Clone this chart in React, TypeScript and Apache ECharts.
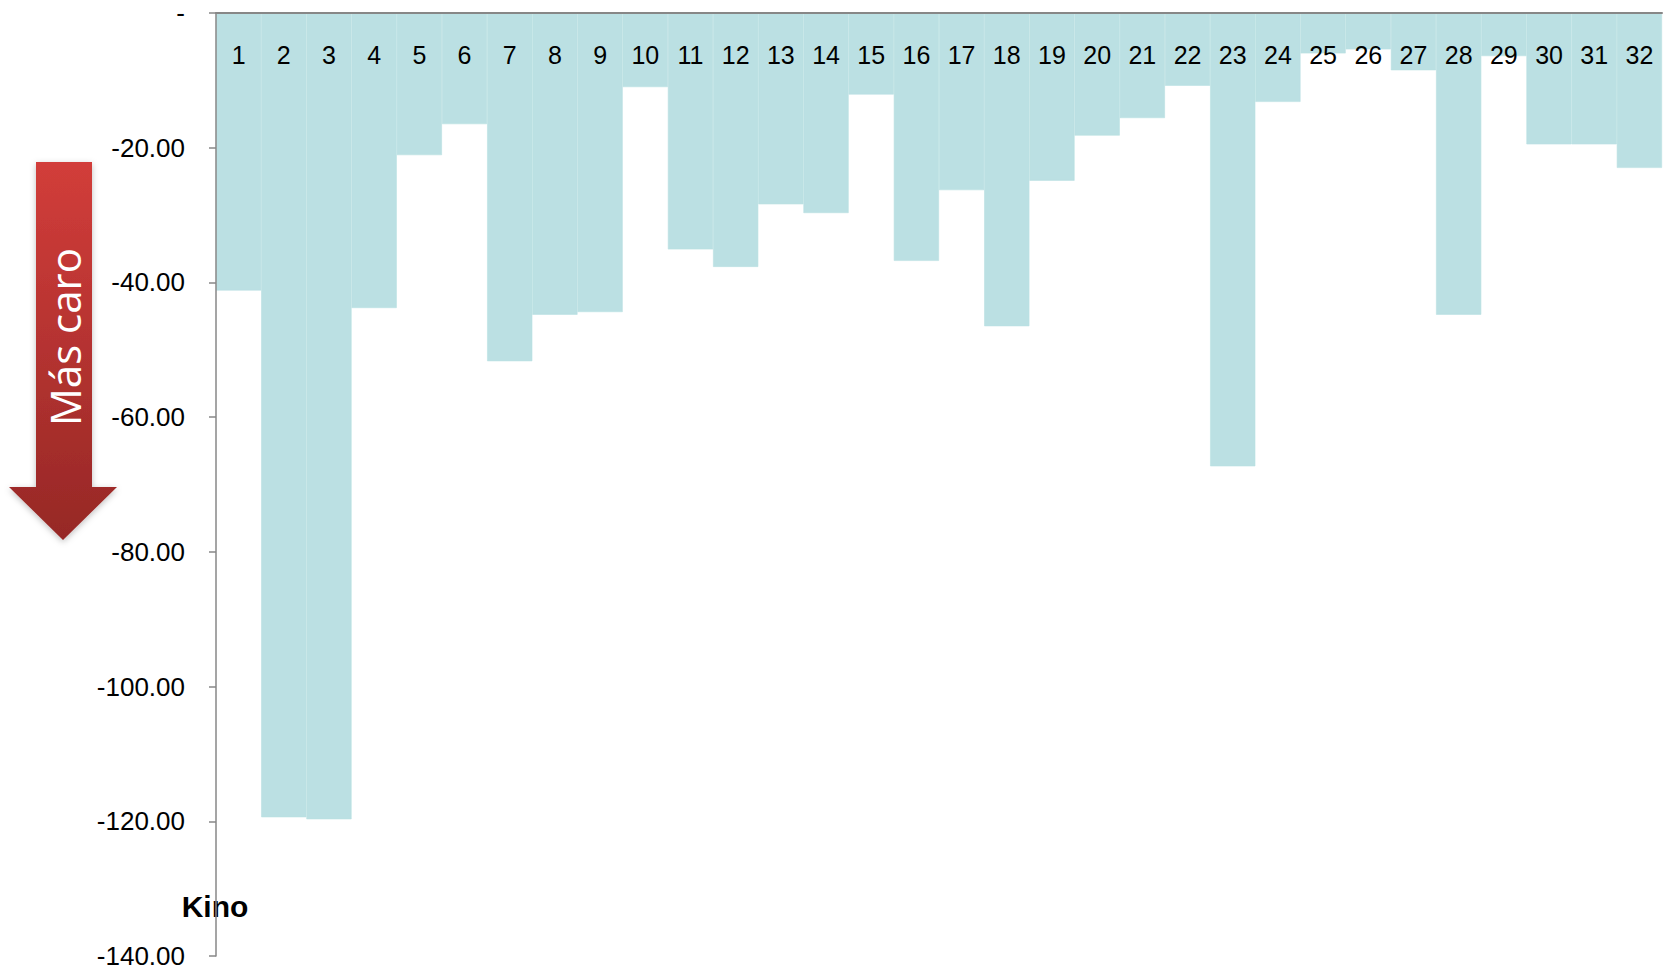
import React, { useEffect, useRef } from "react";
import * as echarts from "echarts";

const categories: string[] = Array.from({ length: 32 }, (_, i) => String(i + 1));
const values: number[] = [
  -41.2, -119.4, -119.7, -43.8, -21.1, -16.5, -51.7, -44.8, -44.4, -11.0,
  -35.1, -37.7, -28.4, -29.7, -12.1, -36.8, -26.3, -46.5, -24.9, -18.2,
  -15.6, -10.8, -67.3, -13.2, -6.0, -5.4, -8.5, -44.8, -6.4, -19.5,
  -19.5, -23.0,
];
const yMin = -140;
const yMax = 0;
const yInterval = 20;
const axisTitle = "Kino";
const arrowText = "Más caro";

export default function App() {
  const ref = useRef<HTMLDivElement>(null);
  useEffect(() => {
    if (!ref.current) return;
    const chart = echarts.init(ref.current, null, { renderer: "svg" });
    chart.setOption({
      animation: false,
      backgroundColor: "#ffffff",
      grid: { left: 216, right: 11, top: 9, bottom: 13, containLabel: false },
      xAxis: {
        type: "category",
        data: categories,
        position: "top",
        z: 10,
        axisLine: { show: true, lineStyle: { color: "#878787", width: 2 } },
        axisTick: { show: false },
        axisLabel: {
          inside: true,
          margin: 29,
          color: "#000",
          fontSize: 25,
          fontFamily: "Liberation Sans, Arial, sans-serif",
          interval: 0,
        },
        splitLine: { show: false },
      },
      yAxis: {
        type: "value",
        min: yMin,
        max: yMax,
        interval: yInterval,
        z: 10,
        axisLine: { show: true, lineStyle: { color: "#878787", width: 1.5 } },
        axisTick: { show: true, length: 7, lineStyle: { color: "#878787", width: 1.5 } },
        axisLabel: {
          margin: 31,
          color: "#000",
          fontSize: 26,
          fontFamily: "Liberation Sans, Arial, sans-serif",
          formatter: (v: number) => (v === 0 ? "-" : v.toFixed(2)),
        },
        splitLine: { show: false },
      },
      series: [
        {
          type: "bar",
          data: values,
          barCategoryGap: "0%",
          itemStyle: { color: "#BBE0E3", borderColor: "#BBE0E3", borderWidth: 0.6 },
          z: 1,
        },
      ],
      graphic: [
        {
          type: "polygon",
          z: 20,
          shape: {
            points: [
              [36, 162],
              [92, 162],
              [92, 487],
              [117, 487],
              [63, 540],
              [9, 487],
              [36, 487],
            ],
          },
          style: {
            fill: new echarts.graphic.LinearGradient(0, 0, 0, 1, [
              { offset: 0, color: "#D23D3A" },
              { offset: 1, color: "#962826" },
            ]),
            shadowBlur: 6,
            shadowColor: "rgba(0,0,0,0.25)",
            shadowOffsetY: 2,
          },
        },
        {
          type: "text",
          z: 21,
          x: 64,
          y: 337,
          rotation: Math.PI / 2,
          style: {
            text: arrowText,
            fill: "#ffffff",
            fontSize: 42,
            fontFamily: "Open Sans, sans-serif",
            align: "center",
            verticalAlign: "middle",
          },
        },
        {
          type: "text",
          z: 5,
          x: 215,
          y: 906,
          style: {
            text: axisTitle,
            fill: "#000",
            fontSize: 30,
            fontWeight: "bold",
            fontFamily: "Liberation Sans, Arial, sans-serif",
            align: "center",
            verticalAlign: "middle",
          },
        },
      ],
    });
    return () => chart.dispose();
  }, []);
  return (
    <div
      ref={ref}
      style={{ position: "fixed", left: 0, top: 0, width: 1673, height: 969 }}
    />
  );
}
